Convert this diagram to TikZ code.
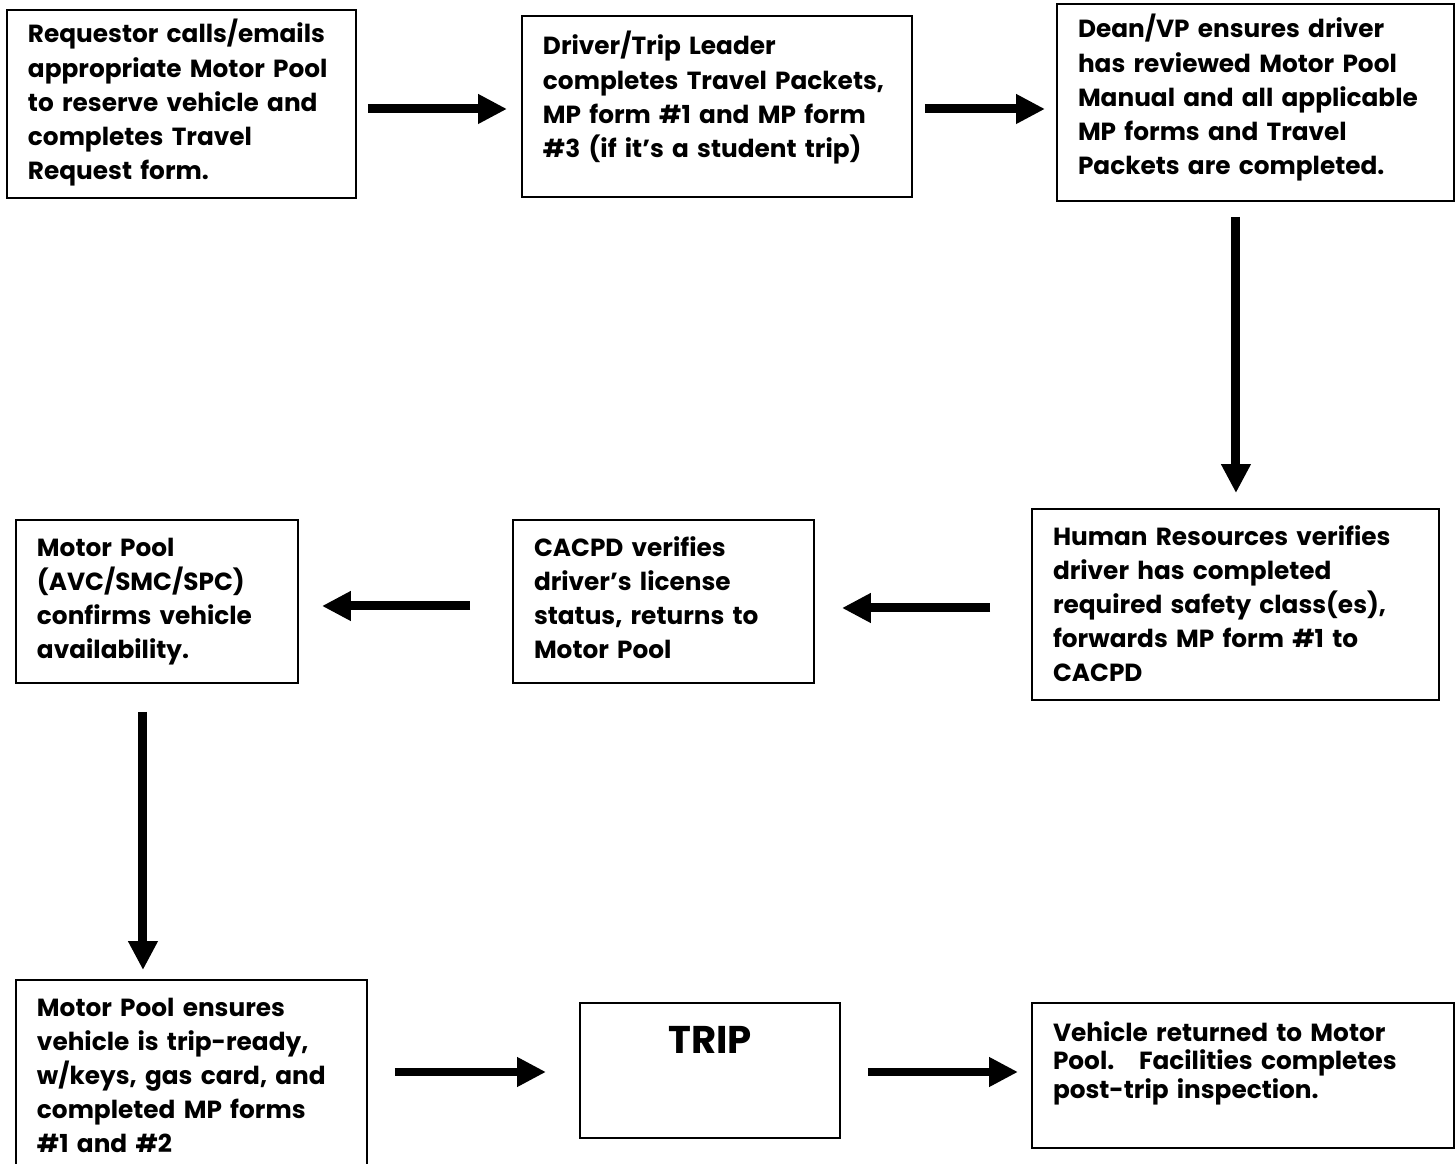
\documentclass[tikz,border=0pt]{standalone}
\usepackage{fontspec}
\setmainfont{Poppins}
\usetikzlibrary{arrows.meta,calc}

\begin{document}
\begin{tikzpicture}[
  x=0.02cm, y=-0.02cm,
  stepbox/.style={
    draw, line width=0.04cm, anchor=north west, align=left,
    inner xsep=0.42cm, inner ysep=0pt, text height=0.72cm,
    font=\fontsize{14.1pt}{19.4pt}\selectfont\bfseries,
  },
  flow/.style={line width=0.18cm, -{Triangle[length=0.58cm, width=0.56cm]}},
]
\useasboundingbox (0,0) rectangle (1455,1164);

% Top row
\node[stepbox, text width=6.14cm, text height=0.66cm, text depth=3.1cm] (req) at (6,9)
  {Requestor calls/emails\\appropriate Motor Pool\\to reserve vehicle and\\completes Travel\\Request form.};
\node[stepbox, text width=6.96cm, text height=0.78cm, text depth=2.84cm] (drv) at (521,15)
  {Driver/Trip Leader\\completes Travel Packets,\\MP form \#1 and MP form\\\#3 (if it’s a student trip)};
\node[stepbox, text width=7.1cm, text height=0.68cm, text depth=3.26cm] (dean) at (1056,3)
  {Dean/VP ensures driver\\has reviewed Motor Pool\\Manual and all applicable\\MP forms and Travel\\Packets are completed.};

% Middle row
\node[stepbox, text width=7.3cm, text depth=3.1cm] (hr) at (1031,508)
  {Human Resources verifies\\driver has completed\\required safety class(es),\\forwards MP form \#1 to\\CACPD};
\node[stepbox, text width=5.18cm, text depth=2.54cm] (cacpd) at (512,519)
  {CACPD verifies\\driver’s license\\status, returns to\\Motor Pool};
\node[stepbox, text width=4.8cm, text depth=2.54cm] (avail) at (15,519)
  {Motor Pool\\(AVC/SMC/SPC)\\confirms vehicle\\availability.};

% Bottom row
\node[stepbox, text width=6.18cm, text depth=3.2cm] (ready) at (15,979)
  {Motor Pool ensures\\vehicle is trip-ready,\\w/keys, gas card, and\\completed MP forms\\\#1 and \#2};
\node[stepbox, align=center, text width=4.36cm, text height=1.0cm, text depth=1.7cm,
      font=\fontsize{22pt}{26pt}\selectfont\bfseries] (trip) at (579,1002) {TRIP};
\node[stepbox, text width=7.6cm, text height=0.76cm, text depth=2.14cm,
      font=\fontsize{14.1pt}{16.5pt}\selectfont\bfseries] (back) at (1031,1002)
  {Vehicle returned to Motor\\Pool.\ \ \ Facilities completes\\post-trip inspection.};

% Arrows
\draw[flow, shorten <=0.22cm, shorten >=0.28cm]
  ($(req.east)+(0,5)$) -- ($(req.east -| drv.west)+(0,5)$);
\draw[flow, shorten <=0.24cm, shorten >=0.22cm]
  ($(drv.east)+(0,2.5)$) -- ($(drv.east -| dean.west)+(0,2.5)$);
\draw[flow, shorten <=0.3cm, shorten >=0.3cm]
  ($(dean.south)+(-19.5,0)$) -- ($(dean.south |- hr.north)+(-19.5,0)$);
\draw[flow, shorten <=0.82cm, shorten >=0.54cm]
  ($(hr.west)+(0,3.5)$) -- ($(hr.west -| cacpd.east)+(0,3.5)$);
\draw[flow, shorten <=0.84cm, shorten >=0.46cm]
  ($(cacpd.west)+(0,4.5)$) -- ($(cacpd.west -| avail.east)+(0,4.5)$);
\draw[flow, shorten <=0.56cm, shorten >=0.18cm]
  ($(avail.south)+(-14,0)$) -- ($(avail.south |- ready.north)+(-14,0)$);
\draw[flow, shorten <=0.54cm, shorten >=0.66cm]
  ($(trip.west -| ready.east)+(0,1.5)$) -- ($(trip.west)+(0,1.5)$);
\draw[flow, shorten <=0.54cm, shorten >=0.26cm]
  ($(trip.east)+(0,1.5)$) -- ($(trip.east -| back.west)+(0,1.5)$);

\end{tikzpicture}
\end{document}
